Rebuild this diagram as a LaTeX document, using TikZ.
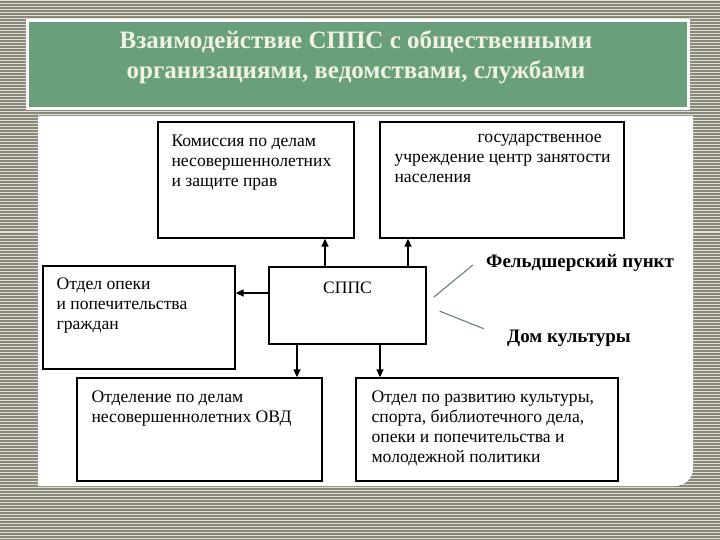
\documentclass[tikz,border=0pt]{standalone}
\usepackage{fontspec}
\setmainfont{Liberation Serif}
\usetikzlibrary{arrows.meta, positioning}

\definecolor{titlegreen}{RGB}{106,160,121}
\definecolor{titletext}{RGB}{240,242,228}
\definecolor{stripegray}{RGB}{138,136,122}
\definecolor{stripelight}{RGB}{222,222,214}
\definecolor{pointergray}{RGB}{110,128,114}

\begin{document}
\begin{tikzpicture}[x=1pt, y=-1pt,
    box/.style={draw, line width=1.3pt, fill=white, inner sep=0pt},
    boxtext/.style={anchor=north west, inner sep=0pt, align=left, font=\fontsize{17.6}{20}\selectfont},
    arrow/.style={-{Triangle[length=8pt, width=7pt]}, line width=1.3pt},
    pointer/.style={draw=pointergray, line width=1.1pt},
    sidelabel/.style={inner sep=0pt, font=\fontsize{19}{22}\selectfont\bfseries},
]
  \useasboundingbox (0,0) rectangle (720,540);

  % striped background
  \fill[stripegray] (0,0) rectangle (720,540);
  \foreach \y in {1,4,...,540}
    \draw[stripelight, line width=1pt] (0,\y) -- (720,\y);

  % title panel
  \fill[white] (26,19) rectangle (690,110);
  \fill[titlegreen] (29,22) rectangle (687,107);
  \node[font=\fontsize{25}{30}\selectfont\bfseries, text=titletext, align=center] (title) at (356,57)
    {Взаимодействие СППС с общественными\\организациями, ведомствами, службами};

  % white sheet
  \fill[white] (38,116) -- (693,116) [rounded corners=18pt] -- (693,486) [sharp corners] -- (38,486) -- cycle;

  % boxes
  \node[box, minimum width=196, minimum height=116] (komissiya) at (256,180) {};
  \node[box, minimum width=244, minimum height=116] (zanyatost) at (502,180) {};
  \node[box, minimum width=157, minimum height=77] (spps) at (347.5,305.5) {};
  \node[box, minimum width=192, minimum height=103] (opeka) at (139,317.5) {};
  \node[box, minimum width=245, minimum height=103] (ovd) at (199.5,429.5) {};
  \node[box, minimum width=262, minimum height=103] (razvitie) at (487,429.5) {};

  % box texts
  \node[boxtext] (komissiyatxt) at ([shift={(14pt,-13pt)}]komissiya.north west)
    {Комиссия по делам\\несовершеннолетних\\и защите прав};
  \node[boxtext] (zanyatosttxt) at ([shift={(15pt,-13pt)}]zanyatost.north west)
    {\hspace*{83pt}государственное\\учреждение центр занятости\\населения};
  \node[font=\fontsize{17.5}{20}\selectfont] (sppstxt) at ([yshift=18pt]spps.center) {СППС};
  \node[boxtext] (opekatxt) at ([shift={(14pt,-12pt)}]opeka.north west)
    {Отдел опеки\\и попечительства\\граждан};
  \node[boxtext] (ovdtxt) at ([shift={(15pt,-13pt)}]ovd.north west)
    {Отделение по делам\\несовершеннолетних ОВД};
  \node[boxtext] (razvitietxt) at ([shift={(16pt,-13pt)}]razvitie.north west)
    {Отдел по развитию культуры,\\спорта, библиотечного дела,\\опеки и попечительства и\\молодежной политики};

  % free labels on the right
  \node[sidelabel, anchor=west] (feldsher) at (486,263) {Фельдшерский пункт};
  \node[sidelabel, anchor=west] (dom) at (507,338) {Дом культуры};

  % connectors
  \draw[arrow] ([xshift=-22.5pt]spps.north) -- ([xshift=-22.5pt]spps.north |- komissiya.south);
  \draw[arrow] ([xshift=60.5pt]spps.north) -- ([xshift=60.5pt]spps.north |- zanyatost.south);
  \draw[arrow] ([yshift=12.5pt]spps.west) -- ([yshift=12.5pt]spps.west -| opeka.east);
  \draw[arrow] ([xshift=-50.5pt]spps.south) -- ([xshift=-50.5pt]spps.south |- ovd.north);
  \draw[arrow] ([xshift=32.5pt]spps.south) -- ([xshift=32.5pt]spps.south |- razvitie.north);

  \draw[pointer, shorten <=9pt, shorten >=17pt] ([yshift=2.5pt]spps.east) -- (feldsher.north west);
  \draw[pointer, shorten <=14pt, shorten >=25pt] ([yshift=-0.5pt]spps.east) -- (dom.west);
\end{tikzpicture}
\end{document}
